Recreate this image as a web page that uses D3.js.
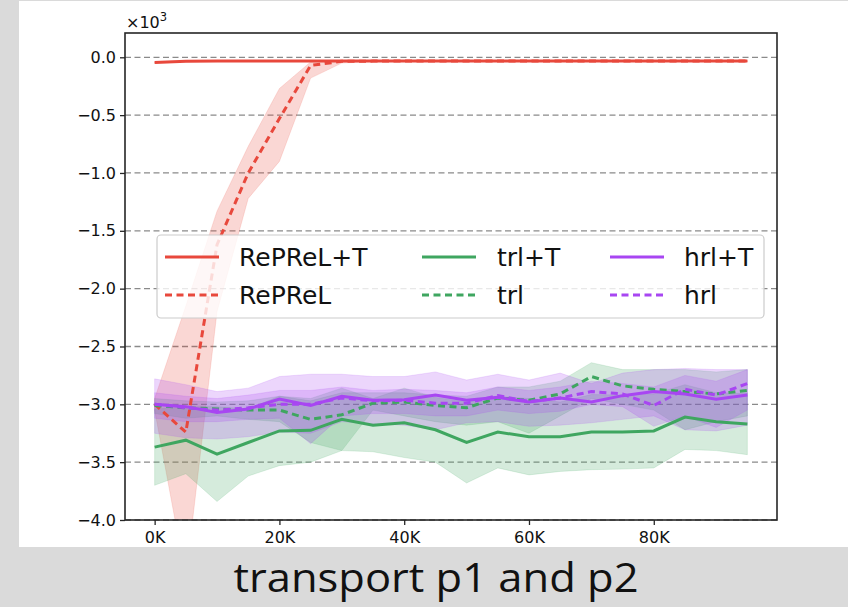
<!DOCTYPE html>
<html>
<head>
<meta charset="utf-8">
<script src="https://cdn.jsdelivr.net/npm/d3@7"></script>
<style>
html,body{margin:0;padding:0;background:#dadada;}
svg{display:block;}
</style>
</head>
<body>
<svg id="chart" width="848" height="607"></svg>
<script>
// ---------------- data ----------------
const steps = [0,5,10,15,20,25,30,35,40,45,50,55,60,65,70,75,80,85,90,95];
const xTicks = [0,20,40,60,80];
const yTicks = [0,-0.5,-1.0,-1.5,-2.0,-2.5,-3.0,-3.5,-4.0];
const seriesNames = ["RePReL+T","RePReL","trl+T","trl","hrl+T","hrl"];
const caption = "transport p1 and p2";
const offsetLabel = "×10";
const offsetExp = "3";

const reprelT_mean = [-0.045,-0.035,-0.033,-0.033,-0.033,-0.033,-0.033,-0.033,-0.033,-0.033,-0.033,-0.033,-0.033,-0.033,-0.033,-0.033,-0.033,-0.033,-0.033,-0.033];
const reprelT_hi   = [-0.04,-0.03,-0.029,-0.029,-0.029,-0.029,-0.029,-0.029,-0.029,-0.029,-0.029,-0.029,-0.029,-0.029,-0.029,-0.029,-0.029,-0.029,-0.029,-0.029];
const reprelT_lo   = [-0.05,-0.04,-0.037,-0.037,-0.037,-0.037,-0.037,-0.037,-0.037,-0.037,-0.037,-0.037,-0.037,-0.037,-0.037,-0.037,-0.037,-0.037,-0.037,-0.037];

const reprel_mean = [-3.0,-3.24,-1.62,-1.0,-0.53,-0.07,-0.035,-0.033,-0.033,-0.033,-0.033,-0.033,-0.033,-0.033,-0.033,-0.033,-0.033,-0.033,-0.033,-0.033];
const reprel_hi   = [-2.95,-2.15,-1.33,-0.77,-0.27,-0.04,-0.03,-0.03,-0.03,-0.03,-0.03,-0.03,-0.03,-0.03,-0.03,-0.03,-0.03,-0.03,-0.03,-0.03];
const reprel_lo   = [-3.05,-4.5,-2.2,-1.22,-0.9,-0.18,-0.05,-0.036,-0.036,-0.036,-0.036,-0.036,-0.036,-0.036,-0.036,-0.036,-0.036,-0.036,-0.036,-0.036];

const trlT_mean = [-3.37,-3.31,-3.43,-3.33,-3.23,-3.225,-3.13,-3.18,-3.16,-3.22,-3.33,-3.24,-3.28,-3.28,-3.24,-3.24,-3.23,-3.11,-3.15,-3.17];
const trlT_hi   = [-3.04,-3.02,-3.02,-3.04,-2.93,-2.95,-2.86,-2.95,-2.86,-2.94,-2.98,-2.93,-2.95,-2.98,-2.915,-2.92,-2.91,-2.83,-2.9,-2.905];
const trlT_lo   = [-3.70,-3.60,-3.84,-3.62,-3.53,-3.50,-3.40,-3.41,-3.46,-3.50,-3.68,-3.55,-3.61,-3.58,-3.565,-3.56,-3.55,-3.39,-3.40,-3.435];

const trl_mean = [-3.01,-3.03,-3.04,-3.05,-3.05,-3.13,-3.09,-2.99,-2.98,-3.01,-3.03,-2.945,-2.965,-2.91,-2.76,-2.84,-2.87,-2.89,-2.91,-2.88];
const trl_hi   = [-2.95,-2.97,-2.98,-2.97,-2.93,-2.97,-2.9,-2.9,-2.9,-2.92,-2.93,-2.85,-2.85,-2.8,-2.64,-2.70,-2.70,-2.70,-2.72,-2.70];
const trl_lo   = [-3.08,-3.12,-3.1,-3.13,-3.15,-3.33,-3.4,-3.05,-3.1,-3.15,-3.18,-3.15,-3.25,-3.1,-2.95,-3.0,-3.05,-3.22,-3.15,-3.1];

const hrlT_mean = [-3.0,-3.02,-3.07,-3.04,-2.955,-3.01,-2.93,-2.965,-2.96,-2.92,-2.965,-2.94,-2.98,-2.945,-2.98,-2.925,-2.89,-2.91,-2.955,-2.92];
const hrlT_hi   = [-2.78,-2.83,-2.89,-2.86,-2.76,-2.74,-2.74,-2.76,-2.76,-2.72,-2.79,-2.74,-2.79,-2.73,-2.82,-2.73,-2.70,-2.69,-2.70,-2.70];
const hrlT_lo   = [-3.25,-3.29,-3.3,-3.28,-3.24,-3.25,-3.15,-3.17,-3.18,-3.22,-3.16,-3.15,-3.19,-3.18,-3.16,-3.13,-3.10,-3.22,-3.23,-3.18];

const hrl_mean = [-3.0,-3.03,-3.05,-3.03,-3.0,-3.0,-2.945,-2.97,-2.965,-2.99,-2.99,-2.925,-2.975,-2.945,-2.89,-2.91,-3.01,-2.87,-2.92,-2.82];
const hrl_hi   = [-2.9,-2.93,-2.95,-2.92,-2.88,-2.88,-2.85,-2.88,-2.87,-2.88,-2.9,-2.85,-2.88,-2.85,-2.8,-2.82,-2.85,-2.75,-2.8,-2.7];
const hrl_lo   = [-3.12,-3.15,-3.15,-3.13,-3.12,-3.34,-3.1,-3.08,-3.08,-3.1,-3.1,-3.05,-3.08,-3.06,-3.0,-3.02,-3.19,-3.1,-3.2,-3.05];

const RED = "#e8483c", GREEN = "#3fa660", PURPLE = "#a846f2";

const series = [
  {name: seriesNames[0], mean: reprelT_mean, hi: reprelT_hi, lo: reprelT_lo, color: RED, dashed: false},
  {name: seriesNames[1], mean: reprel_mean,  hi: reprel_hi,  lo: reprel_lo,  color: RED, dashed: true},
  {name: seriesNames[2], mean: trlT_mean,    hi: trlT_hi,    lo: trlT_lo,    color: GREEN, dashed: false},
  {name: seriesNames[3], mean: trl_mean,     hi: trl_hi,     lo: trl_lo,     color: GREEN, dashed: true},
  {name: seriesNames[4], mean: hrlT_mean,    hi: hrlT_hi,    lo: hrlT_lo,    color: PURPLE, dashed: false},
  {name: seriesNames[5], mean: hrl_mean,     hi: hrl_hi,     lo: hrl_lo,     color: PURPLE, dashed: true}
];

// ---------------- layout ----------------
const svg = d3.select("#chart");
const L = 125, R = 777, T = 33, B = 520;
const x = d3.scaleLinear().domain([-4.75, 99.75]).range([L, R]);
const y = d3.scaleLinear().domain([-4.0, 0.21]).range([B, T]);

// backgrounds
svg.append("rect").attr("x",0).attr("y",0).attr("width",848).attr("height",607).attr("fill","#dadada");
svg.append("rect").attr("x",19).attr("y",1).attr("width",829).attr("height",546).attr("fill","#ffffff");

svg.append("defs").append("clipPath").attr("id","plotclip")
  .append("rect").attr("x",L).attr("y",T).attr("width",R-L).attr("height",B-T);

// grid
const grid = svg.append("g");
grid.selectAll("line").data(yTicks).join("line")
  .attr("x1",L).attr("x2",R)
  .attr("y1",d=>y(d)).attr("y2",d=>y(d))
  .attr("stroke","#8a8a8a").attr("stroke-width",1.3).attr("stroke-dasharray","6,3.5");

const plot = svg.append("g").attr("clip-path","url(#plotclip)");

const area = d3.area()
  .x((d,i)=>x(steps[i]))
  .y0(d=>y(d[0]))
  .y1(d=>y(d[1]));
const line = d3.line()
  .x((d,i)=>x(steps[i]))
  .y(d=>y(d));

// fills first (matplotlib zorder 1)
series.forEach(s=>{
  const pts = s.lo.map((v,i)=>[v, s.hi[i]]);
  plot.append("path").attr("d", area(pts))
    .attr("fill", s.color).attr("fill-opacity",0.22)
    .attr("stroke", s.color).attr("stroke-opacity",0.15).attr("stroke-width",1);
});
// lines
series.forEach(s=>{
  plot.append("path").attr("d", line(s.mean))
    .attr("fill","none").attr("stroke", s.color)
    .attr("stroke-width",3)
    .attr("stroke-dasharray", s.dashed ? "7,4.5" : null);
});

// axes
const fmtY = d3.format(".1f");
const yAxis = d3.axisLeft(y).tickValues(yTicks).tickFormat(d=>fmtY(d)).tickSize(5).tickPadding(4);
const xAxis = d3.axisBottom(x).tickValues(xTicks).tickFormat(d=>d+"K").tickSize(5).tickPadding(7);

const gy = svg.append("g").attr("transform",`translate(${L},0)`).call(yAxis);
const gx = svg.append("g").attr("transform",`translate(0,${B})`).call(xAxis);
[gx,gy].forEach(g=>{
  g.select(".domain").remove();
  g.selectAll(".tick line").attr("stroke","#262626").attr("stroke-width",1.3);
  g.selectAll(".tick text").attr("fill","#111").attr("font-family","DejaVu Sans").attr("font-size",16);
});

// spines
svg.append("rect").attr("x",L).attr("y",T).attr("width",R-L).attr("height",B-T)
  .attr("fill","none").attr("stroke","#262626").attr("stroke-width",1.6);

// offset text
const off = svg.append("text").attr("x",L+1).attr("y",28)
  .attr("font-family","DejaVu Sans").attr("font-size",16).attr("fill","#111");
off.append("tspan").text(offsetLabel);
off.append("tspan").attr("dy",-7).attr("font-size",11.5).text(offsetExp);

// legend
const lg = svg.append("g");
lg.append("rect").attr("x",157).attr("y",235).attr("width",607).attr("height",83).attr("rx",4)
  .attr("fill","#ffffff").attr("fill-opacity",0.8).attr("stroke","#cccccc").attr("stroke-width",1.2);
const colHandle = [165, 422, 610];
const colText = [239, 497, 684];
const rowY = [257, 295];
series.forEach((s,i)=>{
  const c = Math.floor(i/2), r = i%2;
  lg.append("line").attr("x1",colHandle[c]).attr("x2",colHandle[c]+54)
    .attr("y1",rowY[r]).attr("y2",rowY[r])
    .attr("stroke",s.color).attr("stroke-width",3)
    .attr("stroke-dasharray", s.dashed ? "7,4.5" : null);
  lg.append("text").attr("x",colText[c]).attr("y",rowY[r]).attr("dy","0.35em")
    .attr("font-family","DejaVu Sans").attr("font-size",25).attr("fill","#111")
    .text(s.name);
});

// bottom caption band
svg.append("rect").attr("x",0).attr("y",547).attr("width",848).attr("height",60).attr("fill","#dadada");
svg.append("text").attr("x",436).attr("y",592).attr("text-anchor","middle")
  .attr("font-family","Open Sans").attr("font-size",41).attr("fill","#111")
  .attr("textLength",405).attr("lengthAdjust","spacingAndGlyphs")
  .text(caption);
</script>
</body>
</html>
